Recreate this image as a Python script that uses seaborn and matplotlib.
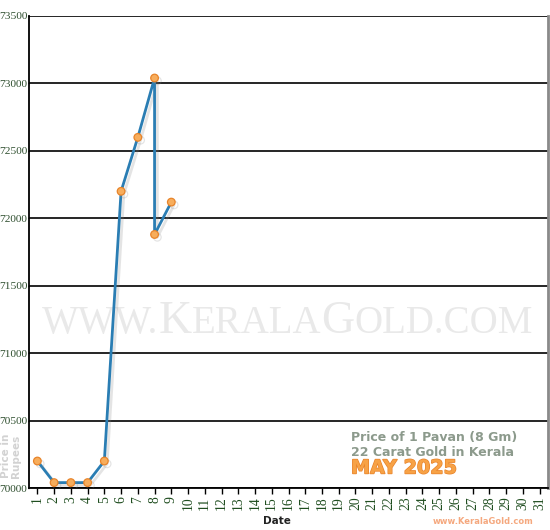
import matplotlib
matplotlib.use("Agg")
import matplotlib.pyplot as plt
import matplotlib.patheffects as pe
import seaborn as sns
import pandas as pd

# May 2025, 22 carat, price of 1 pavan (8 gm); day 8 had two rates
days = [1, 2, 3, 4, 5, 6, 7, 8, 8, 9]
prices = [70200, 70040, 70040, 70040, 70200, 72200, 72600, 73040, 71880, 72120]
y_ticks = [70000, 70500, 71000, 71500, 72000, 72500, 73000, 73500]
x_ticks = list(range(1, 32))

W, H = 550, 530

sns.set_style("white")
plt.rcParams['font.family'] = ['DejaVu Sans']

fig = plt.figure(figsize=(W / 100, H / 100), dpi=100)
fig.patch.set_facecolor("white")
ax = fig.add_axes([29 / W, 1 - 488 / H, (548 - 29) / W, (488 - 16) / H])
ax.set_facecolor("none")

df = pd.DataFrame({"day": days, "price": prices})

# watermark in small caps, drawn piece by piece
pieces = [("WWW.", 28), ("K", 33), ("ERALA", 28), ("G", 33), ("OLD.COM", 28)]
renderer = fig.canvas.get_renderer()
widths = []
for s, size in pieces:
    t = fig.text(0, 0, s, fontsize=size, family="Liberation Serif")
    widths.append(t.get_window_extent(renderer).width)
    t.remove()
scale = (533 - 42) / sum(widths)
x = 42
for (s, size), w in zip(pieces, widths):
    ax.text(x / W, 1 - 333 / H, s, fontsize=size * scale, family="Liberation Serif",
            color="#e9e9e9", transform=fig.transFigure, zorder=0.5, va="baseline")
    x += w * scale

sns.lineplot(data=df, x="day", y="price", ax=ax, estimator=None, sort=False,
             color="#2a7db3", linewidth=2.0, marker="o", markersize=5.5,
             markerfacecolor="#f7ad5c", markeredgecolor="#e8842a", markeredgewidth=0.9,
             path_effects=[pe.SimpleLineShadow(offset=(2, -2), shadow_color="#888888", alpha=0.22),
                           pe.Normal()], zorder=3)

ax.set_xlim(0.5, 31.5)
ax.set_ylim(70000, 73500)
ax.set_xticks(x_ticks)
ax.set_xticklabels([str(d) for d in x_ticks], rotation=90, family="Liberation Serif",
                   fontsize=9.8, color="#1f4d1f")
ax.set_yticks(y_ticks)
ax.set_yticklabels([str(v) for v in y_ticks], family="Liberation Serif",
                   fontsize=8.2, color="#2f4f2f")
ax.tick_params(axis="x", direction="out", length=4, width=1, color="black", pad=2, bottom=True)
ax.tick_params(axis="y", direction="out", length=1, width=1, color="black", pad=0.3, left=True)

ax.yaxis.grid(True, color="black", linewidth=1.2)
ax.xaxis.grid(False)
ax.set_axisbelow(True)
for side in ["left", "bottom"]:
    ax.spines[side].set_color("black")
    ax.spines[side].set_linewidth(1.3)
ax.spines["top"].set_visible(False)
ax.spines["right"].set_color("#8a8a8a")
ax.spines["right"].set_linewidth(2)

ax.set_xlabel("")
ax.set_ylabel("")
fig.text(277 / W, 1 - 521 / H, "Date", fontsize=7.5, fontweight="bold", color="#222222",
         ha="center", va="center")
fig.text(11 / W, 1 - 456 / H, "Price in\nRupees", fontsize=7.5, fontweight="bold",
         color="#d2d2d2", rotation=90, ha="center", va="center", linespacing=1.0)

fig.text(351 / W, 1 - 437 / H, "Price of 1 Pavan (8 Gm)", fontsize=9.0, fontweight="bold",
         color="#8c9a8c", ha="left", va="center")
fig.text(351 / W, 1 - 452 / H, "22 Carat Gold in Kerala", fontsize=9.0, fontweight="bold",
         color="#8c9a8c", ha="left", va="center")
fig.text(351 / W, 1 - 468 / H, "MAY 2025", fontsize=13.8, fontweight="bold",
         color="#f7a246", ha="left", va="center",
         path_effects=[pe.withStroke(linewidth=1.0, foreground="#e8822a")])
fig.text(533 / W, 1 - 521 / H, "www.KeralaGold.com", fontsize=6.0, fontweight="bold",
         color="#f5a87e", ha="right", va="center")

fig.savefig("out.png", dpi=100, facecolor="white")
